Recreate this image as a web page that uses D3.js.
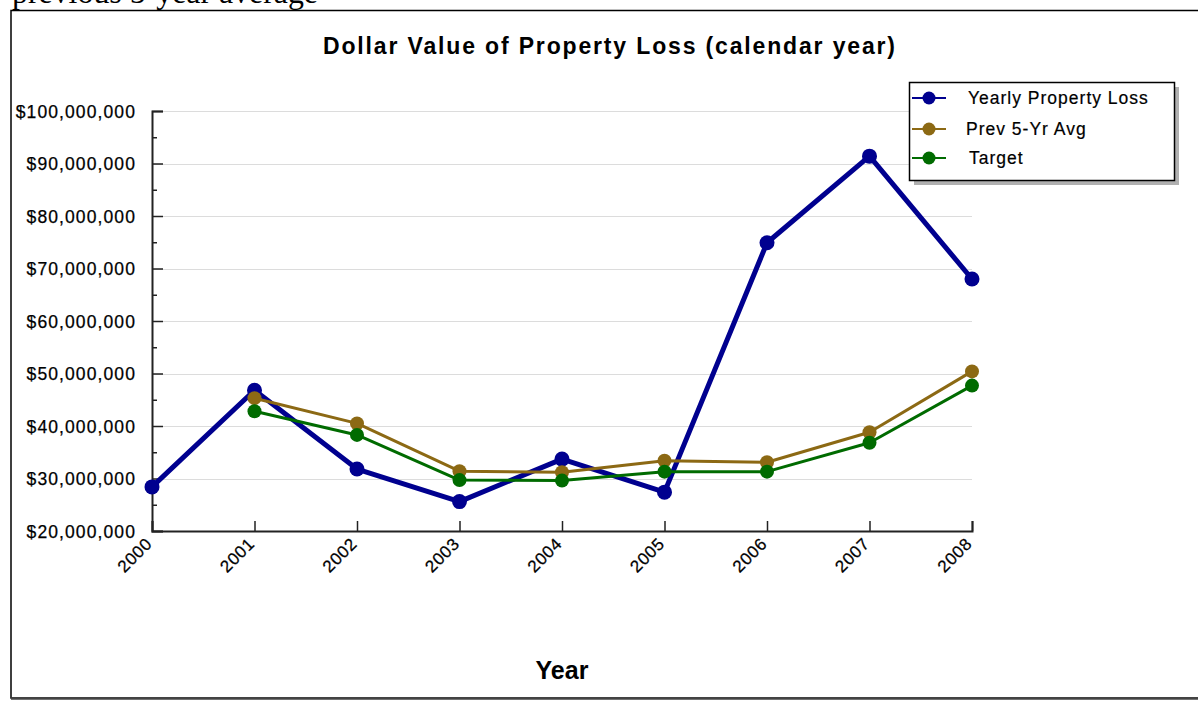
<!DOCTYPE html>
<html><head><meta charset="utf-8">
<script src="https://cdn.jsdelivr.net/npm/d3@7"></script>
<style>html,body{margin:0;padding:0;background:#fff;overflow:hidden}</style>
</head><body>
<svg id="c" width="1198" height="701"></svg>
<script>
const years = ["2000","2001","2002","2003","2004","2005","2006","2007","2008"];
const yearlyLoss = [28.4e6, 46.8e6, 31.8e6, 25.6e6, 33.7e6, 27.4e6, 74.9e6, 91.4e6, 68.0e6];
const prevAvgYears = ["2001","2002","2003","2004","2005","2006","2007","2008"];
const prevAvg = [45.3e6, 40.5e6, 31.4e6, 31.2e6, 33.4e6, 33.1e6, 38.8e6, 50.4e6];
const target = [42.8e6, 38.3e6, 29.7e6, 29.6e6, 31.3e6, 31.3e6, 36.8e6, 47.7e6];
const yTicks = [20e6, 30e6, 40e6, 50e6, 60e6, 70e6, 80e6, 90e6, 100e6];
const yMinorTicks = [25e6, 35e6, 45e6, 55e6, 65e6, 75e6, 85e6, 95e6];
const seriesNames = ["Yearly Property Loss", "Prev 5-Yr Avg", "Target"];
const seriesColors = ["#00008f", "#8c6914", "#006b00"];

const svg = d3.select("#c");
const font = "'Liberation Sans', Arial, sans-serif";
const narrow = "'Liberation Sans Narrow', 'Arial Narrow', 'Liberation Sans', Arial, sans-serif";

// cut-off page text above
svg.append("text").attr("x", 12).attr("y", 3)
  .attr("font-family", "'Liberation Serif', 'Times New Roman', serif")
  .attr("font-size", 32).attr("textLength", 306).attr("lengthAdjust", "spacingAndGlyphs")
  .attr("fill", "#000").text("previous 5-year average");

// outer frame
svg.append("rect").attr("x", 11).attr("y", 10.5).attr("width", 1200).attr("height", 687.5)
  .attr("fill", "#fff").attr("stroke", "#000").attr("stroke-width", 1.5);
svg.append("line").attr("x1", 11).attr("x2", 1198).attr("y1", 698.5).attr("y2", 698.5)
  .attr("stroke", "#444").attr("stroke-width", 2.5);

const x = d3.scalePoint().domain(years).range([152, 972]);
const y = d3.scaleLinear().domain([20e6, 100e6]).range([531, 111]);

// title
svg.append("text").attr("x", 609).attr("y", 54).attr("text-anchor", "middle")
  .attr("font-family", narrow).attr("font-weight", "bold").attr("font-size", 23)
  .attr("textLength", 572).attr("lengthAdjust", "spacing")
  .text("Dollar Value of Property Loss (calendar year)");

// gridlines
svg.append("g").selectAll("line").data(yTicks.slice(1)).join("line")
  .attr("x1", 152).attr("x2", 972)
  .attr("y1", d => Math.round(y(d)) + 0.5).attr("y2", d => Math.round(y(d)) + 0.5)
  .attr("stroke", "#dcdcdc").attr("stroke-width", 1.2);

// y axis
const yAxis = d3.axisRight(y).tickValues(yTicks).tickSize(11).tickFormat("");
const gy = svg.append("g").attr("transform", "translate(152,0)").call(yAxis);
gy.select(".domain").attr("stroke", "#222").attr("stroke-width", 2);
gy.selectAll(".tick line").attr("stroke", "#222").attr("stroke-width", 1.5);
const yMinor = d3.axisRight(y).tickValues(yMinorTicks).tickSize(5).tickFormat("");
const gym = svg.append("g").attr("transform", "translate(152,0)").call(yMinor);
gym.select(".domain").remove();
gym.selectAll(".tick line").attr("stroke", "#222").attr("stroke-width", 1.5);

// y labels
const fmt = d => "$" + d3.format(",")(d);
svg.append("g").selectAll("text").data(yTicks).join("text")
  .attr("x", 136).attr("y", d => y(d) + 6.5).attr("text-anchor", "end")
  .attr("font-family", font).attr("font-size", 17.5).attr("letter-spacing", 1.1)
  .attr("fill", "#000").attr("stroke", "#000").attr("stroke-width", 0.25).text(fmt);

// x axis
const xAxis = d3.axisTop(x).tickSize(10).tickFormat("");
const gx = svg.append("g").attr("transform", "translate(0,531)").call(xAxis);
gx.select(".domain").attr("stroke", "#222").attr("stroke-width", 2);
gx.selectAll(".tick line").attr("stroke", "#222").attr("stroke-width", 1.5);

svg.append("g").selectAll("text").data(years).join("text")
  .attr("transform", d => `translate(${x(d) + 1},545) rotate(-45)`)
  .attr("text-anchor", "end").attr("font-family", font).attr("font-size", 17)
  .attr("letter-spacing", 0.6).attr("fill", "#000").attr("stroke", "#000").attr("stroke-width", 0.25)
  .text(d => d);

// x axis title
svg.append("text").attr("x", 562).attr("y", 679).attr("text-anchor", "middle")
  .attr("font-family", font).attr("font-weight", "bold").attr("font-size", 25)
  .text("Year");

// series
const line = d3.line().x(d => x(d[0])).y(d => y(d[1]));
const series = [
  { pts: d3.zip(years, yearlyLoss), color: seriesColors[0], w: 5, r: 7.5 },
  { pts: d3.zip(prevAvgYears, prevAvg), color: seriesColors[1], w: 3, r: 7 },
  { pts: d3.zip(prevAvgYears, target), color: seriesColors[2], w: 3, r: 7 }
];
series.forEach(s => {
  svg.append("path").datum(s.pts).attr("d", line).attr("fill", "none")
    .attr("stroke", s.color).attr("stroke-width", s.w).attr("stroke-linejoin", "round");
  svg.append("g").selectAll("circle").data(s.pts).join("circle")
    .attr("cx", d => x(d[0])).attr("cy", d => y(d[1])).attr("r", s.r)
    .attr("fill", s.color);
});

// legend
const lg = svg.append("g");
lg.append("rect").attr("x", 914).attr("y", 87).attr("width", 265).attr("height", 98).attr("fill", "#b0b0b0");
lg.append("rect").attr("x", 909.5).attr("y", 82.5).attr("width", 265).attr("height", 98)
  .attr("fill", "#fff").attr("stroke", "#000").attr("stroke-width", 1.5);
const rowsY = [98, 129, 158];
const textX = [968, 966, 969];
seriesNames.forEach((n, i) => {
  lg.append("line").attr("x1", 912).attr("x2", 946).attr("y1", rowsY[i]).attr("y2", rowsY[i])
    .attr("stroke", seriesColors[i]).attr("stroke-width", 2);
  lg.append("circle").attr("cx", 929).attr("cy", rowsY[i]).attr("r", 6.5).attr("fill", seriesColors[i]);
  lg.append("text").attr("x", textX[i]).attr("y", rowsY[i] + 6)
    .attr("font-family", font).attr("font-size", 17.5).attr("letter-spacing", 1.0)
    .attr("fill", "#000").attr("stroke", "#000").attr("stroke-width", 0.2).text(n);
});
</script>
</body></html>
